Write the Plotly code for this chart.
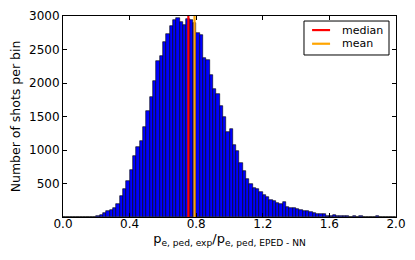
import plotly.graph_objects as go

bin_width = 0.02
bin_left = [round(i * bin_width, 2) for i in range(100)]
counts = [0, 0, 0, 0, 0, 0, 0, 0, 0, 5,
          18, 30, 55, 90, 105, 130, 190, 310, 415, 530,
          700, 908, 1048, 1138, 1347, 1587, 1786, 2036, 2335, 2410,
          2610, 2735, 2844, 2945, 2965, 2910, 2870, 2950, 2935, 2900,
          2745, 2710, 2375, 2345, 2126, 1912, 1837, 1662, 1497, 1272,
          1313, 1073, 988, 813, 689, 564, 499, 439, 415, 379,
          329, 300, 255, 240, 214, 190, 225, 150, 140, 130,
          125, 100, 90, 90, 80, 55, 52, 40, 38, 15,
          15, 30, 20, 15, 8, 10, 7, 9, 6, 8,
          5, 7, 6, 5, 8, 6, 5, 4, 6, 5]
median_val = 0.753
mean_val = 0.79
stat_names = ["median", "mean"]
stat_colors = ["red", "orange"]
x_ticks = [0.0, 0.4, 0.8, 1.2, 1.6, 2.0]
y_ticks = [500, 1000, 1500, 2000, 2500, 3000]

centers = [b + bin_width / 2 for b in bin_left]

fig = go.Figure()
fig.add_trace(go.Bar(x=centers, y=counts, width=bin_width,
                     marker=dict(color="#0000ff", line=dict(color="black", width=0.6)),
                     showlegend=False, hoverinfo="skip"))
for val, name, col in zip([median_val, mean_val], stat_names, stat_colors):
    fig.add_trace(go.Scatter(x=[val, val], y=[0, 3000], mode="lines",
                             line=dict(color=col, width=2.2), name=name,
                             showlegend=False))

# custom legend (matplotlib-like compact box)
fig.add_shape(type="rect", xref="paper", yref="paper", x0=0.7237, x1=0.979,
              y0=0.806, y1=0.975, line=dict(color="black", width=1),
              fillcolor="white", layer="above")
for ly, name, col in zip([0.930, 0.862], stat_names, stat_colors):
    fig.add_shape(type="line", xref="paper", yref="paper", x0=0.748, x1=0.802,
                  y0=ly, y1=ly, line=dict(color=col, width=2.2), layer="above")
    fig.add_annotation(xref="paper", yref="paper", x=0.835, y=ly, text=name,
                       showarrow=False, xanchor="left", yanchor="middle",
                       borderpad=0, font=dict(size=11, color="black"))

axis_common = dict(showline=True, linecolor="black", linewidth=1, mirror="ticks",
                   ticks="inside", ticklen=4, tickcolor="black", showgrid=False,
                   zeroline=False, automargin=False,
                   tickfont=dict(size=12, color="black"))
fig.update_xaxes(range=[0, 2], tickvals=x_ticks,
                 ticktext=[f"{v:.1f}" for v in x_ticks],
                 ticklabelstandoff=-4,
                 title=dict(text="p<sub>e, ped, exp</sub>/p<sub>e, ped, EPED - NN</sub>",
                            font=dict(size=13, color="black"), standoff=3),
                 **axis_common)
fig.update_yaxes(range=[0, 3000], tickvals=y_ticks,
                 title=dict(text="Number of shots per bin", font=dict(size=12.5, color="black"),
                            standoff=9),
                 **axis_common)
fig.update_layout(width=415, height=260, barmode="overlay", bargap=0,
                  paper_bgcolor="white", plot_bgcolor="white",
                  font=dict(family="DejaVu Sans", color="black"),
                  margin=dict(l=55, r=27, t=8, b=51),
                  showlegend=False)
fig.write_html("out.html")
